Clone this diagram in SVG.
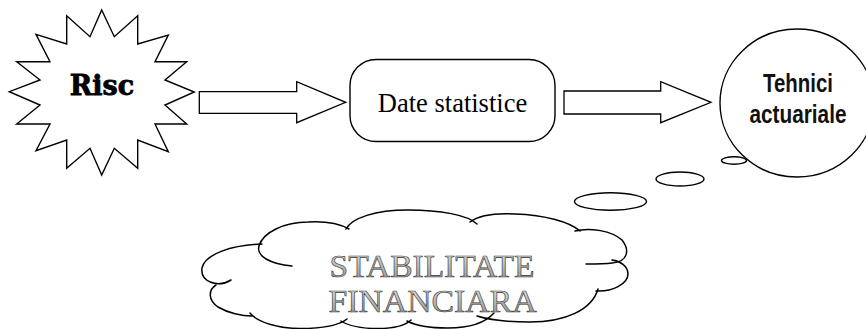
<svg xmlns="http://www.w3.org/2000/svg" width="866" height="329" viewBox="0 0 866 329">
<defs>
<linearGradient id="eng" x1="0" y1="0" x2="0" y2="1">
<stop offset="0" stop-color="#e8e8e8"/>
<stop offset="1" stop-color="#8c8c8c"/>
</linearGradient>
</defs>
<style>
.shape{fill:#fff;stroke:#000;stroke-width:1.4;stroke-linejoin:miter}
.line{fill:none;stroke:#000;stroke-width:1.5;stroke-linecap:round}
.arrow{fill:#fff;stroke:#000;stroke-width:1.3;stroke-linejoin:miter}
.risc{font-family:"DejaVu Serif","Liberation Serif",serif;font-weight:bold;font-size:27px;fill:#000;stroke:#000;stroke-width:0.8}
.date{font-family:"Liberation Serif",serif;font-size:26.5px;fill:#000}
.teh{font-family:"Liberation Sans Narrow","Liberation Sans",sans-serif;font-weight:bold;font-size:25px;fill:#111}
.stab{font-family:"Liberation Serif",serif;font-size:32.5px;fill:url(#eng);stroke:#333;stroke-width:0.6}
</style>
<g id="risc">
<polygon class="shape" points="101.7,10 114.3,36.7 137.7,15.7 137.7,44 168.3,35 155,61.7 186.7,61.7 165,80 194.3,92 165,105 186.7,124 155,124 168.3,151.7 137.7,140 137.7,168.3 114.3,148.3 101.7,175 90,148.3 66.7,168.3 66.7,140 36,150.7 50,124 16.7,124 40,105 9.3,91.7 40,80 16.7,61.7 50,61.7 36,34.3 66.7,44 66.7,15.7 90,36.7"/>
<text class="risc" x="102" y="95" text-anchor="middle">Risc</text>
</g>
<g id="connectors">
<polygon class="arrow" points="199.3,91.7 296.7,91.7 296.7,81.7 345.7,102.3 296.7,122.7 296.7,113.3 199.3,113.3"/>
<polygon class="arrow" points="564,91 660.7,91 660.7,81.7 711,102.3 660.7,122.7 660.7,114 564,114"/>
</g>
<g id="date-statistice">
<rect class="shape" x="350" y="59.5" width="205" height="82" rx="26" ry="26"/>
<text class="date" x="452.5" y="111.5" text-anchor="middle">Date statistice</text>
</g>
<g id="bubbles">
<ellipse class="shape" cx="734" cy="160.5" rx="12.5" ry="3.8"/>
<ellipse class="shape" cx="680" cy="179" rx="24" ry="7"/>
<ellipse class="shape" cx="610.5" cy="201.5" rx="36" ry="8.7"/>
</g>
<g id="tehnici-actuariale">
<ellipse class="shape" cx="797" cy="103" rx="77" ry="74"/>
<text class="teh" x="798" y="91.5" text-anchor="middle" textLength="70" lengthAdjust="spacingAndGlyphs">Tehnici</text>
<text class="teh" x="798" y="123.3" text-anchor="middle" textLength="97" lengthAdjust="spacingAndGlyphs">actuariale</text>
</g>
<g id="stabilitate-financiara">
<path class="line" d="M292,266 C270,264 256,256 259,246 C263,232 285,222 308,222 C325,221 340,224 349,229"/>
<path class="line" d="M346,229 C352,218 375,210 408,210 C440,210 468,215 477,224"/>
<path class="line" d="M470,222 C478,216 495,213 515,214 C545,215 570,222 580,231"/>
<path class="line" d="M575,231 C590,227 612,231 622,240 C630,250 628,262 612,263 C605,264 594,264 586,264"/>
<path class="line" d="M612,260 C620,261 628,266 628,274 C628,284 612,292 596,291"/>
<path class="line" d="M598,289 C592,310 565,322 530,322 C510,322 490,320 477,316"/>
<path class="line" d="M494,313 C485,323 468,328 448,328 C432,328 418,327 407,321"/>
<path class="line" d="M411,320 C405,326 393,328.5 378,328.5 C365,328.5 350,327 341,321"/>
<path class="line" d="M347,319 C338,326 320,328.5 300,328.5 C280,328.5 258,323 250,313"/>
<path class="line" d="M252,316 C242,316 228,313 218,307 C208,300 208,290 216,285"/>
<path class="line" d="M262,244 C232,245 205,254 202,268 C200,282 218,288 231,280"/>
<text class="stab" x="432" y="277" text-anchor="middle" textLength="205" lengthAdjust="spacingAndGlyphs">STABILITATE</text>
<text class="stab" x="432.5" y="311.5" text-anchor="middle" textLength="208" lengthAdjust="spacingAndGlyphs">FINANCIARA</text>
</g>
</svg>
